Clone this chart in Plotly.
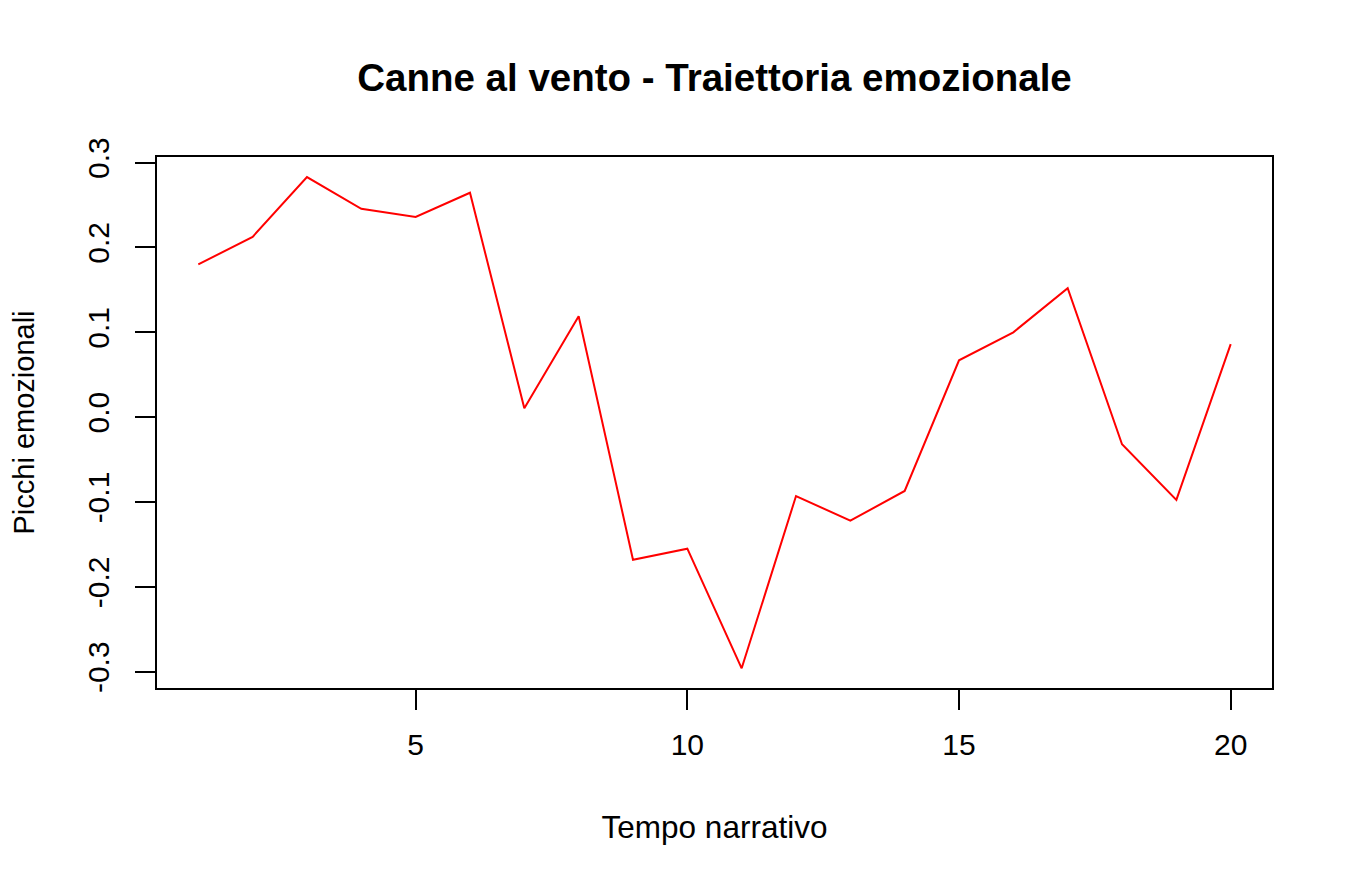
import plotly.graph_objects as go

# Data
tempo = list(range(1, 21))
picchi = [0.180, 0.2125, 0.283, 0.2456, 0.236, 0.2645, 0.0106, 0.119, -0.168, -0.155,
          -0.296, -0.093, -0.122, -0.087, 0.067, 0.100, 0.152, -0.032, -0.0975, 0.086]

x_tickvals = [5, 10, 15, 20]
x_ticktext = ["5", "10", "15", "20"]
y_tickvals = [-0.3, -0.2, -0.1, 0.0, 0.1, 0.2, 0.3]
y_ticktext = ["-0.3", "-0.2", "-0.1", "0.0", "0.1", "0.2", "0.3"]

title_text = "Canne al vento - Traiettoria emozionale"
x_title = "Tempo narrativo"
y_title = "Picchi emozionali"

FONT = "Liberation Sans, Arial, Helvetica, sans-serif"

fig = go.Figure()
fig.add_trace(go.Scatter(x=tempo, y=picchi, mode="lines",
                         line=dict(color="#FF0000", width=2), showlegend=False))

# page body has an 8px margin; size the figure so it fits the window
W, H = 1336, 868
fig.update_layout(
    width=W, height=H, autosize=False,
    paper_bgcolor="white", plot_bgcolor="white",
    margin=dict(l=149, r=72, t=149, b=188, pad=0),
    font=dict(family=FONT, color="black", size=30),
    title=dict(text="<b>" + title_text + "</b>", x=0.5, xanchor="center",
               xref="paper", y=1 - 70 / H, yanchor="middle", yref="container",
               font=dict(size=38.5, family=FONT, color="black")),
)

fig.update_xaxes(
    range=[0.24, 20.76], tickmode="array", tickvals=x_tickvals, ticktext=x_ticktext,
    showgrid=False, zeroline=False, showline=True, mirror=True, automargin=False,
    linecolor="black", linewidth=2, ticks="outside", ticklen=20, tickwidth=2,
    tickcolor="black", tickfont=dict(size=30), ticklabelstandoff=9,
    title=dict(text=x_title, font=dict(size=31.5), standoff=56),
)
fig.update_yaxes(
    range=[-0.3192, 0.3066], tickmode="array", tickvals=y_tickvals, ticktext=y_ticktext,
    showgrid=False, zeroline=False, showline=True, mirror=True, automargin=False,
    linecolor="black", linewidth=2, ticks="outside", ticklen=20, tickwidth=2,
    tickcolor="black", tickfont=dict(size=30), tickangle=-90, ticklabelstandoff=14,
    title=dict(text=y_title, font=dict(size=29), standoff=46),
)

fig.write_html("out.html")
